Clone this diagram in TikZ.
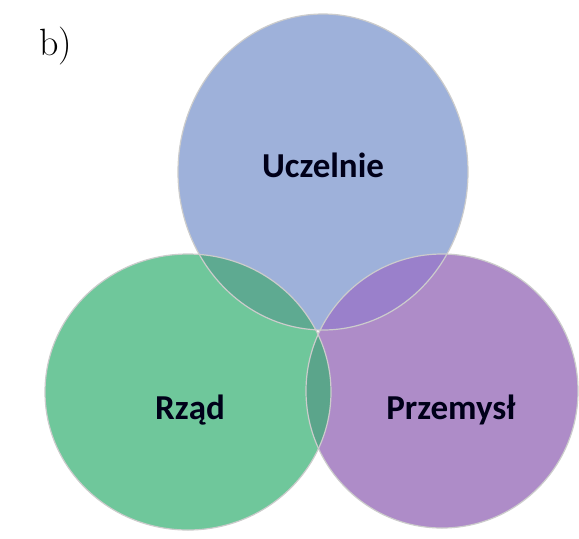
\documentclass[tikz,border=0pt]{standalone}
\usepackage{fontspec}
\usepackage{xcolor}
\usepackage{tikz}
\usetikzlibrary{
  positioning
}
\newfontfamily\setfont{Carlito}
\definecolor{uczelniefill}{HTML}{9EB1DA}
\definecolor{rzadfill}{HTML}{6FC79B}
\definecolor{przemyslfill}{HTML}{AE8CC8}
\definecolor{ucrzfill}{HTML}{5EAA91}
\definecolor{ucprfill}{HTML}{9A80CB}
\definecolor{rzprfill}{HTML}{5BA58B}

\begin{document}
\begin{tikzpicture}[x=0.5pt,y=-0.5pt,
  setlabel/.style={
    font=\setfont\bfseries\fontsize{17.5}{20}\selectfont,
    text=black!90!blue
  },
  rim/.style={draw=black!20, line width=0.6pt}
]
\useasboundingbox[fill=white] (0,0) rectangle (579,538);

% the three sets
\fill[uczelniefill] (323,172) ellipse [x radius=145, y radius=158];
\fill[rzadfill] (188,392) ellipse [x radius=143, y radius=138];
\fill[przemyslfill] (442,391) ellipse [x radius=136, y radius=137];

% overlaps
\begin{scope}
  \clip (323,172) ellipse [x radius=145, y radius=158];
  \fill[ucrzfill] (188,392) ellipse [x radius=143, y radius=138];
  \fill[ucprfill] (442,391) ellipse [x radius=136, y radius=137];
\end{scope}
\begin{scope}
  \clip (188,392) ellipse [x radius=143, y radius=138];
  \fill[rzprfill] (442,391) ellipse [x radius=136, y radius=137];
\end{scope}

% rims
\draw[rim] (323,172) ellipse [x radius=145, y radius=158];
\draw[rim] (188,392) ellipse [x radius=143, y radius=138];
\draw[rim] (442,391) ellipse [x radius=136, y radius=137];

\node (uczelnie) [setlabel] at (323,165) {Uczelnie};
\node (rzad) [setlabel] at (190,410) {Rząd};
\node (przemysl) [setlabel] at (451,410) {Przemysł};

\node (part) [font=\fontsize{19}{22}\selectfont] at (56,46) {b)};
\end{tikzpicture}
\end{document}
